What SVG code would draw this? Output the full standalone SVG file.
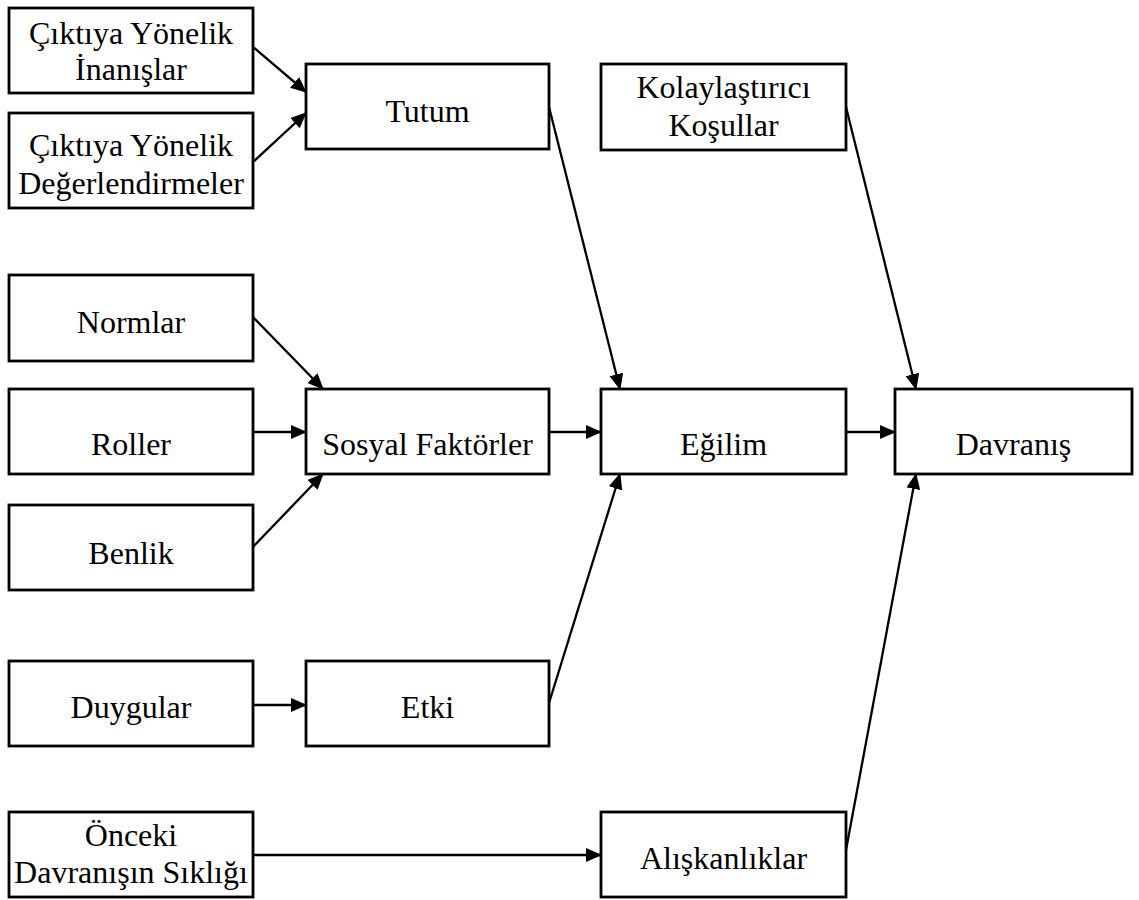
<svg xmlns="http://www.w3.org/2000/svg" width="1139" height="900" viewBox="0 0 1139 900">
  <defs>
    <style>
      .box { fill: #ffffff; stroke: #000000; stroke-width: 2.8; }
      .lbl { font-family: "Liberation Serif", "Times New Roman", serif; font-size: 32px; fill: #000000; text-anchor: middle; }
      .edge { fill: none; stroke: #000000; stroke-width: 2.3; marker-end: url(#arrow); }
    </style>
    <marker id="arrow" markerUnits="userSpaceOnUse" markerWidth="18" markerHeight="16" refX="15" refY="7" orient="auto">
      <path d="M0,0 L16,7 L0,14 Z" fill="#000000"/>
    </marker>
  </defs>
  <rect width="1139" height="900" fill="#ffffff"/>

  <g id="connectors">
    <line class="edge" x1="253" y1="47" x2="306" y2="92"/>
    <line class="edge" x1="253" y1="162" x2="306" y2="113"/>
    <line class="edge" x1="549" y1="107" x2="620" y2="389"/>
    <line class="edge" x1="846" y1="107" x2="916" y2="389"/>
    <line class="edge" x1="253" y1="317" x2="323" y2="389"/>
    <line class="edge" x1="253" y1="432" x2="306" y2="432"/>
    <line class="edge" x1="253" y1="547" x2="323" y2="474"/>
    <line class="edge" x1="549" y1="432" x2="601" y2="432"/>
    <line class="edge" x1="846" y1="432" x2="895" y2="432"/>
    <line class="edge" x1="253" y1="705" x2="306" y2="705"/>
    <line class="edge" x1="549" y1="703" x2="620" y2="474"/>
    <line class="edge" x1="253" y1="855" x2="601" y2="855"/>
    <line class="edge" x1="846" y1="850" x2="916" y2="474"/>
  </g>

  <g id="inanislar">
    <rect class="box" x="9" y="8" width="244" height="85"/>
    <text class="lbl" x="131" y="44">Çıktıya Yönelik</text>
    <text class="lbl" x="131" y="80">İnanışlar</text>
  </g>
  <g id="degerlendirmeler">
    <rect class="box" x="9" y="113" width="244" height="95"/>
    <text class="lbl" x="131" y="156">Çıktıya Yönelik</text>
    <text class="lbl" x="131" y="194">Değerlendirmeler</text>
  </g>
  <g id="tutum">
    <rect class="box" x="306" y="64" width="243" height="85"/>
    <text class="lbl" x="427.5" y="122">Tutum</text>
  </g>
  <g id="kolaylastirici">
    <rect class="box" x="601" y="64" width="245" height="86"/>
    <text class="lbl" x="723.5" y="98">Kolaylaştırıcı</text>
    <text class="lbl" x="723.5" y="136">Koşullar</text>
  </g>
  <g id="normlar">
    <rect class="box" x="9" y="275" width="244" height="86"/>
    <text class="lbl" x="131" y="333">Normlar</text>
  </g>
  <g id="roller">
    <rect class="box" x="9" y="389" width="244" height="85"/>
    <text class="lbl" x="131" y="455">Roller</text>
  </g>
  <g id="sosyal">
    <rect class="box" x="306" y="389" width="243" height="85"/>
    <text class="lbl" x="427.5" y="455">Sosyal Faktörler</text>
  </g>
  <g id="egilim">
    <rect class="box" x="601" y="389" width="245" height="85"/>
    <text class="lbl" x="723.5" y="455">Eğilim</text>
  </g>
  <g id="davranis">
    <rect class="box" x="895" y="389" width="237" height="85"/>
    <text class="lbl" x="1013.5" y="455">Davranış</text>
  </g>
  <g id="benlik">
    <rect class="box" x="9" y="505" width="244" height="85"/>
    <text class="lbl" x="131" y="564">Benlik</text>
  </g>
  <g id="duygular">
    <rect class="box" x="9" y="661" width="244" height="85"/>
    <text class="lbl" x="131" y="718">Duygular</text>
  </g>
  <g id="etki">
    <rect class="box" x="306" y="661" width="243" height="85"/>
    <text class="lbl" x="427.5" y="718">Etki</text>
  </g>
  <g id="onceki">
    <rect class="box" x="9" y="812" width="244" height="85"/>
    <text class="lbl" x="131" y="846">Önceki</text>
    <text class="lbl" x="131" y="883">Davranışın Sıklığı</text>
  </g>
  <g id="aliskanliklar">
    <rect class="box" x="601" y="812" width="245" height="85"/>
    <text class="lbl" x="723.5" y="869">Alışkanlıklar</text>
  </g>
</svg>
